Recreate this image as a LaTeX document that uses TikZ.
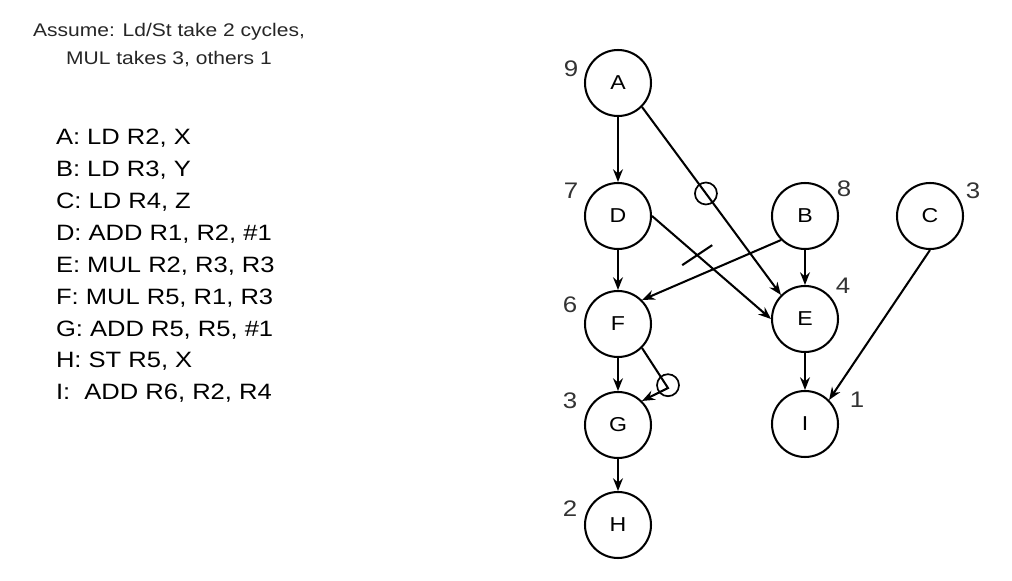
\documentclass[tikz,border=0pt]{standalone}
\usepackage{fontspec}
\setmainfont[FakeStretch=1.15]{Liberation Sans}
\usetikzlibrary{arrows.meta,positioning}

\begin{document}
\begin{tikzpicture}[->,>={Stealth[length=9pt,width=7pt]},node distance=2.6cm,line width=1.45pt,
  instr/.style={draw, circle, minimum size=1.65cm, inner sep=0pt, font=\fontsize{14.3}{17}\selectfont},
  prio/.style={inner sep=0pt, text=black!80, font=\fontsize{16}{18}\selectfont},
  ring/.style={draw, circle, minimum size=0.55cm, inner sep=0pt, line width=1.2pt}]
  \useasboundingbox (0,0) rectangle (25.3,-14.525);

  % instruction list
  \node (note) [anchor=north, align=center, inner sep=0pt, text=black!85,
    font=\fontsize{13}{19.9}\selectfont] at (4.225,-0.55)
    {Assume: Ld/St take 2 cycles,\\MUL takes 3, others 1};
  \node (code) [anchor=north west, align=left, inner sep=0pt,
    font=\fontsize{15.8}{22.7}\selectfont] at (1.375,-3.2)
    {A: LD R2, X\\
     B: LD R3, Y\\
     C: LD R4, Z\\
     D: ADD R1, R2, \#1\\
     E: MUL R2, R3, R3\\
     F: MUL R5, R1, R3\\
     G: ADD R5, R5, \#1\\
     H: ST R5, X\\
     I:\ \ ADD R6, R2, R4};

  % dependence graph
  \node (A) [instr] at (15.45,-2.075) {A};
  \node (D) [instr, below of=A, node distance=3.325cm] {D};
  \node (F) [instr, below of=D, node distance=2.7cm]   {F};
  \node (G) [instr, below of=F, node distance=2.525cm] {G};
  \node (H) [instr, below of=G, node distance=2.5cm]   {H};
  \node (B) [instr, right of=D, node distance=4.675cm] {B};
  \node (C) [instr, right of=B, node distance=3.125cm] {C};
  \node (E) [instr, below of=B, node distance=2.575cm] {E};
  \node (I) [instr, below of=E, node distance=2.625cm] {I};

  \node (pA) [prio] at ([shift={(-1.175,0.35)}]A) {9};
  \node (pD) [prio] at ([shift={(-1.175,0.625)}]D) {7};
  \node (pF) [prio] at ([shift={(-1.2,0.475)}]F)   {6};
  \node (pG) [prio] at ([shift={(-1.2,0.6)}]G)     {3};
  \node (pH) [prio] at ([shift={(-1.2,0.4)}]H)     {2};
  \node (pB) [prio] at ([shift={(0.975,0.675)}]B)  {8};
  \node (pC) [prio] at ([shift={(1.075,0.625)}]C)  {3};
  \node (pE) [prio] at ([shift={(0.95,0.825)}]E)   {4};
  \node (pI) [prio] at ([shift={(1.3,0.6)}]I)      {1};

  \path (A) edge (D)
        (D) edge (F)
        (F) edge (G)
        (G) edge (H)
        (B) edge (E)
        (E) edge (I)
        (B.south west) edge (F.north east)
        (C.south) edge (I.north east);
  \draw (A.south east) -- node[ring, pos=0.46] (rAE) {} (E.north west);
  \draw (D.east) -- coordinate[pos=0.38] (tk) (E.west);
  \draw[-] ([shift={(-0.375,-0.25)}]tk) -- ([shift={(0.375,0.25)}]tk);

  \coordinate (FG) at ([shift={(1.25,-1.6)}]F);
  \draw (F.south east) -- (FG) -- (G.north east);
  \node (rFG) [ring] at ([yshift=0.07cm]FG) {};
\end{tikzpicture}
\end{document}
